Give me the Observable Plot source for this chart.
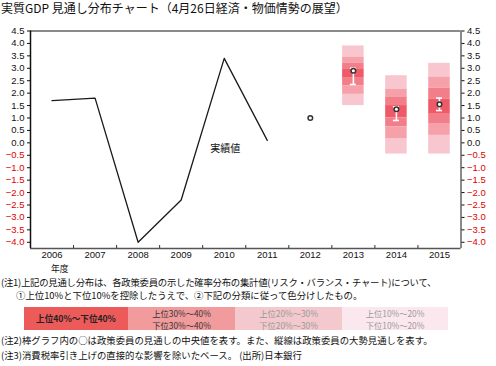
<!DOCTYPE html>
<html><head><meta charset="utf-8">
<script src="https://cdn.jsdelivr.net/npm/d3@7"></script>
<script src="https://cdn.jsdelivr.net/npm/@observablehq/plot@0.6"></script>
<style>
body{margin:0;background:#fff;}
#wrap{position:relative;width:496px;height:366px;overflow:hidden;font-family:"Noto Sans CJK JP",sans-serif;color:#111;}
.abs{position:absolute;white-space:nowrap;line-height:1;}
#chart{position:absolute;left:0;top:16px;}
.lg{position:absolute;top:307px;height:23px;font-size:8.3px;line-height:12px;text-align:center;}
</style></head><body>
<div id="wrap">
<div class="abs" style="left:1px;top:2px;font-size:12px;">実質GDP 見通し分布チャート（4月26日経済・物価情勢の展望）</div>
<div class="abs" style="left:33px;top:18px;font-size:8.6px;font-weight:bold;">(前年比、%)</div>
<div class="abs" style="left:390px;top:17px;font-size:8.6px;font-weight:bold;">(前年比、%)</div>
<div id="chart"></div>
<div class="abs" style="left:51px;top:264.5px;font-size:8.8px;">年度</div>
<div class="abs" style="left:1px;top:278px;font-size:9.4px;letter-spacing:-0.25px;">(注1)上記の見通し分布は、各政策委員の示した確率分布の集計値(リスク・バランス・チャート)について、</div>
<div class="abs" style="left:16px;top:291px;font-size:9.4px;">①上位10%と下位10%を控除したうえで、②下記の分類に従って色分けしたもの。</div>
<div id="legend"></div>
<div class="abs" style="left:1px;top:336px;font-size:9.4px;">(注2)棒グラフ内の○は政策委員の見通しの中央値を表す。また、縦線は政策委員の大勢見通しを表す。</div>
<div class="abs" style="left:1px;top:351px;font-size:9.4px;">(注3)消費税率引き上げの直接的な影響を除いたベース。 (出所)日本銀行</div>
</div>
<script>
const years = [2006, 2007, 2008, 2009, 2010, 2011, 2012, 2013, 2014, 2015];
const actualYears = [2006, 2007, 2008, 2009, 2010, 2011];
const actualValues = [1.7, 1.8, -4.0, -2.3, 3.4, 0.1];
const actualLabel = "実績値";
const medianYears = [2012, 2013, 2014, 2015];
const medianValues = [1.0, 2.9, 1.35, 1.55];
const rangeYears = [2013, 2014, 2015];
const rangeHigh = [3.0, 1.45, 1.8];
const rangeLow = [2.35, 0.9, 1.3];
const bandYears = [2013, 2014, 2015];
const bandEdges = [
  [3.9, 3.45, 3.2, 2.95, 2.6, 2.3, 1.95, 1.5],
  [2.7, 2.15, 1.85, 1.5, 1.0, 0.65, 0.15, -0.45],
  [3.2, 2.65, 2.2, 1.75, 1.15, 0.75, 0.3, -0.45]
];
const bandLevels = ["上位10%～20%", "上位20%～30%", "上位30%～40%", "上位40%～下位40%", "下位30%～40%", "下位20%～30%", "下位10%～20%"];
const bandColors = ["#f8c6ce", "#f6a1aa", "#f27e89", "#ee5a67", "#f27e89", "#f6a1aa", "#f8c6ce"];
const yTicks = [4.5, 4.0, 3.5, 3.0, 2.5, 2.0, 1.5, 1.0, 0.5, 0.0, -0.5, -1.0, -1.5, -2.0, -2.5, -3.0, -3.5, -4.0];
const yDomain = [-4.25, 4.5];
const legendItems = [
  ["上位40%～下位40%"],
  ["上位30%～40%", "下位30%～40%"],
  ["上位20%～30%", "下位20%～30%"],
  ["上位10%～20%", "下位10%～20%"]
];
const legendColors = ["#ec5a5a", "#f29b9c", "#f4c9cd", "#fbe8ee"];
const legendText = ["#222", "#333", "#999", "#999"];

const actual = actualYears.map((y, i) => ({year: y, value: actualValues[i]}));
const medians = medianYears.map((y, i) => ({year: y, value: medianValues[i]}));
const ranges = rangeYears.map((y, i) => ({year: y, hi: rangeHigh[i], lo: rangeLow[i]}));
const segments = bandYears.flatMap((y, i) => bandLevels.map((lv, j) => ({year: y, level: lv, hi: bandEdges[i][j], lo: bandEdges[i][j + 1]})));
const boundaries = years.slice(0, -1).map(y => y + 0.5);
const fmt = d => d < 0 ? "\u2212" + Math.abs(d).toFixed(1) : d.toFixed(1);
const pos = yTicks.filter(d => d >= 0), neg = yTicks.filter(d => d < 0);
const numFont = "'Liberation Sans', Arial, sans-serif";

const chart = Plot.plot({
  width: 496, height: 262,
  marginLeft: 30, marginRight: 35.5, marginTop: 14.5, marginBottom: 30,
  x: {domain: [years[0] - 0.5, years[years.length - 1] + 0.5]},
  y: {domain: yDomain},
  color: {domain: bandLevels, range: bandColors},
  style: {fontFamily: numFont, fontSize: "9.5px", color: "#111", background: "white"},
  marks: [
    Plot.rect(segments, {x1: d => d.year - 0.25, x2: d => d.year + 0.25, y1: "lo", y2: "hi", fill: "level"}),
    Plot.ruleX(ranges, {x: "year", y1: "lo", y2: "hi", stroke: "white", strokeWidth: 1.6}),
    Plot.ruleY(ranges, {y: "hi", x1: d => d.year - 0.07, x2: d => d.year + 0.07, stroke: "white", strokeWidth: 1.6}),
    Plot.ruleY(ranges, {y: "lo", x1: d => d.year - 0.07, x2: d => d.year + 0.07, stroke: "white", strokeWidth: 1.6}),
    Plot.dot(medians, {x: "year", y: "value", r: 2.3, fill: "white", stroke: "#333", strokeWidth: 1.5}),
    Plot.line(actual, {x: "year", y: "value", stroke: "#1a1a1a", strokeWidth: 1.3}),
    Plot.text(actual.filter(d => d.year === 2010), {x: "year", y: "value", text: () => actualLabel, dx: 1, dy: 90, fontFamily: "'Noto Sans CJK JP'", fontSize: 10, fill: "#111"}),
    Plot.ruleY([yDomain[1]], {stroke: "#8a8a8a", strokeWidth: 2}),
    Plot.ruleY([yDomain[0]], {stroke: "#555", strokeWidth: 1.5}),
    Plot.ruleX([years[years.length - 1] + 0.5], {stroke: "#8a8a8a", strokeWidth: 2}),
    Plot.ruleX([years[0] - 0.5], {stroke: "#111", strokeWidth: 1.5}),
    Plot.ruleX(boundaries, {x: d => d, y1: yDomain[0], y2: yDomain[0] + 0.12, stroke: "#333"}),
    Plot.axisX(years, {tickSize: 0, tickPadding: 3, tickFormat: d => String(d), label: null, fontSize: 9.5}),
    Plot.axisY(pos, {anchor: "left", tickSize: 3, tickPadding: 3, tickFormat: fmt, label: null, fill: "#111", stroke: "#111"}),
    Plot.axisY(neg, {anchor: "left", tickSize: 3, tickPadding: 3, tickFormat: fmt, label: null, fill: "#e00000", stroke: "#111"}),
    Plot.axisY(pos, {anchor: "right", tickSize: 3, tickPadding: 3, tickFormat: fmt, label: null, fill: "#111", stroke: "#111"}),
    Plot.axisY(neg, {anchor: "right", tickSize: 3, tickPadding: 3, tickFormat: fmt, label: null, fill: "#e00000", stroke: "#111"})
  ]
});
document.getElementById("chart").appendChild(chart);

const lg = document.getElementById("legend");
const lgLeft = [24, 128, 235, 342], lgW = [104, 107, 107, 106];
legendItems.forEach((lines, i) => {
  const div = document.createElement("div");
  div.className = "lg";
  div.style.left = lgLeft[i] + "px";
  div.style.width = lgW[i] + "px";
  div.style.background = legendColors[i];
  div.style.color = legendText[i];
  if (lines.length === 1) { div.style.lineHeight = "23px"; div.style.fontWeight = "bold"; div.style.fontSize = "8.6px"; }
  div.innerHTML = lines.join("<br>");
  lg.appendChild(div);
});
</script>
</body></html>
